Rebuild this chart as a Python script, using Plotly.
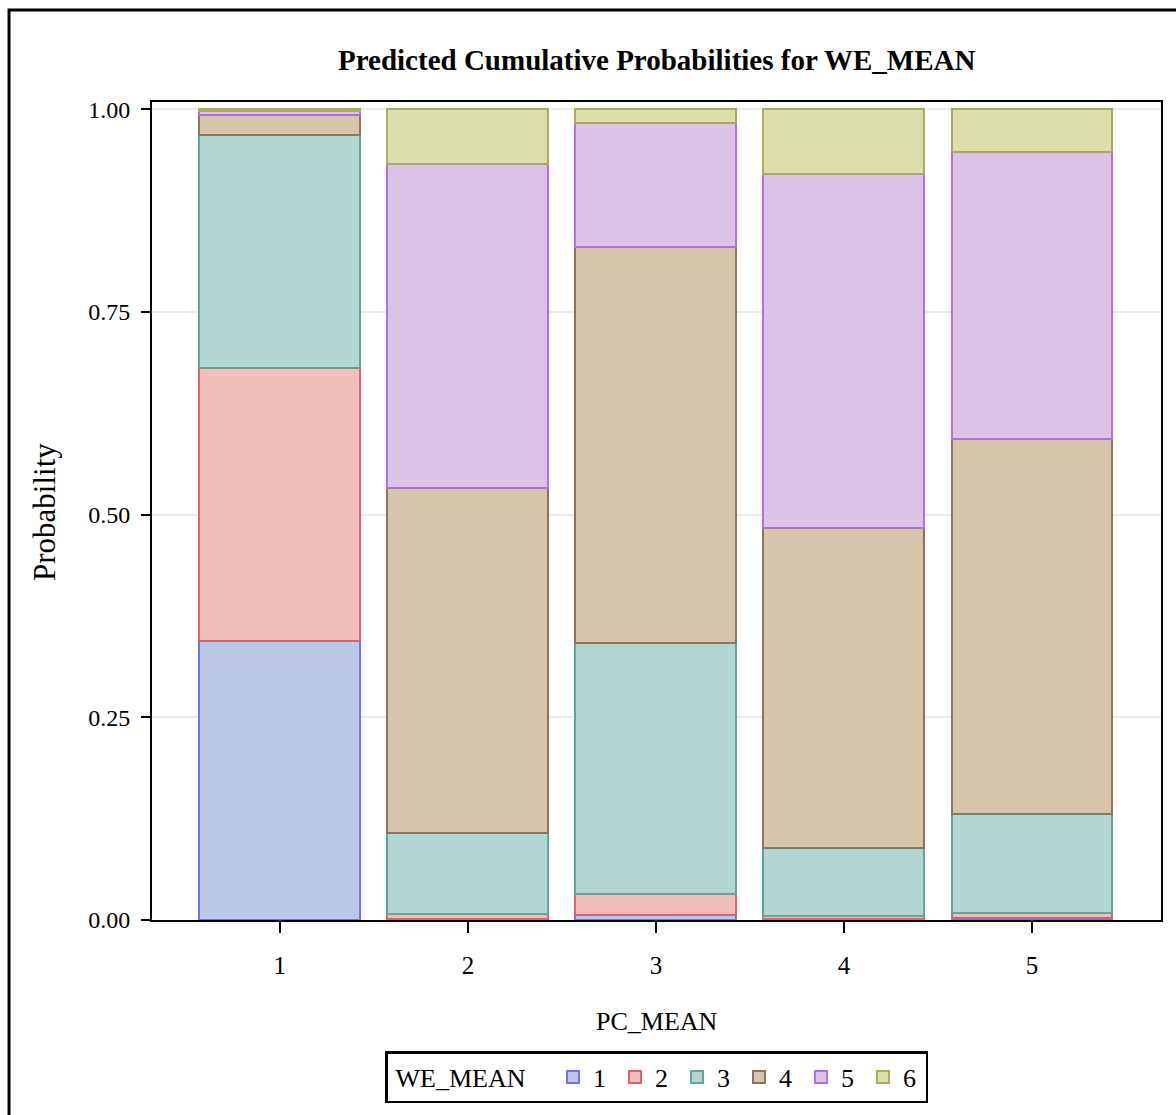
import plotly.graph_objects as go

# Predicted probabilities of each WE_MEAN level, per PC_MEAN value
pc_mean = [1, 2, 3, 4, 5]
we_levels = ["1", "2", "3", "4", "5", "6"]
prob_we1 = [0.344, 0.001, 0.006, 0.001, 0.002]
prob_we2 = [0.337, 0.006, 0.026, 0.004, 0.007]
prob_we3 = [0.287, 0.100, 0.310, 0.084, 0.122]
prob_we4 = [0.025, 0.426, 0.488, 0.395, 0.462]
prob_we5 = [0.005, 0.400, 0.153, 0.436, 0.354]
prob_we6 = [0.002, 0.067, 0.017, 0.080, 0.053]
y_ticks = [0.0, 0.25, 0.5, 0.75, 1.0]
y_tick_labels = ["0.00", "0.25", "0.50", "0.75", "1.00"]

series = [prob_we1, prob_we2, prob_we3, prob_we4, prob_we5, prob_we6]
fills = ["#bdc8e6", "#f0bfb8", "#b4d6d2", "#d6c4ab", "#dbc3e6", "#dcdeab"]
edges = ["#7373f0", "#d8646f", "#5fa79d", "#8e7559", "#b36ee8", "#a9ad5c"]

FONT = "Liberation Serif"

fig = go.Figure()
for name, vals, fc, lc in zip(we_levels, series, fills, edges):
    fig.add_trace(go.Bar(
        x=pc_mean, y=vals, name=name, width=0.856,
        marker=dict(color=fc, line=dict(color=lc, width=2)),
    ))

fig.update_layout(
    barmode="stack",
    width=1176, height=1115,
    margin=dict(l=152, r=15, t=102, b=195),
    paper_bgcolor="white", plot_bgcolor="white",
    font=dict(family=FONT, color="black", size=24),
    showlegend=True,
    legend=dict(
        orientation="h", x=0.5, xanchor="center", y=-0.192, yanchor="middle",
        bordercolor="black", borderwidth=2.5,
        font=dict(family=FONT, size=26),
        title=dict(text=" WE_MEAN   ", side="left", font=dict(family=FONT, size=26)),
        traceorder="normal", itemclick=False, entrywidth=17,
    ),
    xaxis=dict(
        range=[0.32, 5.686], tickvals=pc_mean, ticktext=[str(v) for v in pc_mean],
        ticks="outside", ticklen=11, tickwidth=2, tickcolor="black",
        ticklabelstandoff=11,
        showline=True, linecolor="black", linewidth=2, mirror=True,
        showgrid=False, zeroline=False,
        tickfont=dict(family=FONT, size=25),
    ),
    yaxis=dict(
        range=[0, 1.009], tickvals=y_ticks, ticktext=y_tick_labels,
        ticks="outside", ticklen=9, tickwidth=2, tickcolor="black",
        ticklabelstandoff=6,
        showline=True, linecolor="black", linewidth=2, mirror=True,
        showgrid=True, gridcolor="#ebebeb", gridwidth=2, zeroline=False,
        tickfont=dict(family=FONT, size=24),
    ),
    annotations=[
        dict(text="<b>Predicted Cumulative Probabilities for WE_MEAN</b>",
             xref="paper", yref="paper", x=0.5, y=1.0513,
             xanchor="center", yanchor="middle", showarrow=False,
             font=dict(family=FONT, size=29)),
        dict(text="PC_MEAN", xref="paper", yref="paper", x=0.5, y=-0.1235,
             xanchor="center", yanchor="middle", showarrow=False,
             font=dict(family=FONT, size=26)),
        dict(text="Probability", xref="paper", yref="paper", x=-0.106, y=0.4988,
             xanchor="center", yanchor="middle", showarrow=False, textangle=-90,
             font=dict(family=FONT, size=31)),
    ],
    shapes=[
        # outer graph frame
        dict(type="rect", xref="paper", yref="paper",
             x0=-0.1417, y0=-0.3, x1=1.05, y1=1.1125,
             line=dict(color="black", width=3), layer="below"),
    ],
)

fig.write_html("out.html")
